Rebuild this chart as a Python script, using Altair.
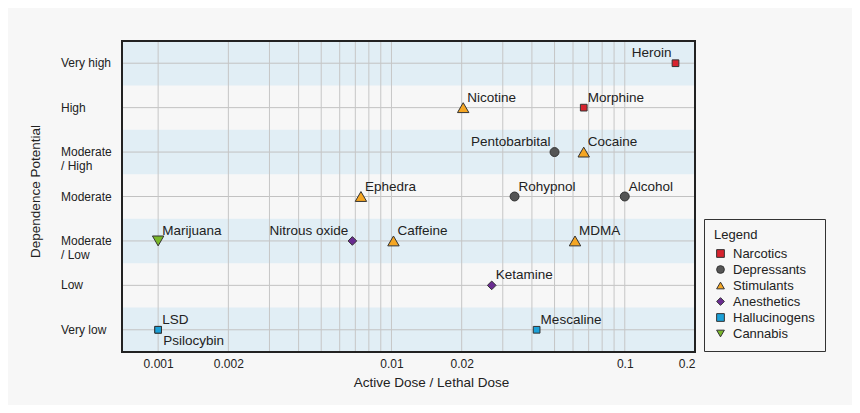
import altair as alt
import pandas as pd

# ---- data ----
levels = ["Very low", "Low", "Moderate\n/ Low", "Moderate", "Moderate\n/ High", "High", "Very high"]
level_values = [1, 2, 3, 4, 5, 6, 7]

drugs = ["Heroin", "Morphine", "Nicotine", "Pentobarbital", "Cocaine", "Ephedra", "Rohypnol",
         "Alcohol", "Marijuana", "Nitrous oxide", "Caffeine", "MDMA", "Ketamine", "LSD",
         "Psilocybin", "Mescaline"]
dose_ratio = [0.165, 0.0667, 0.0203, 0.05, 0.0667, 0.0074, 0.0337,
              0.1, 0.001, 0.0068, 0.0102, 0.0612, 0.0269, 0.001,
              0.001, 0.0419]
dependence = [7, 6, 6, 5, 5, 4, 4,
              4, 3, 3, 3, 3, 2, 1,
              1, 1]
drug_class = ["Narcotics", "Narcotics", "Stimulants", "Depressants", "Stimulants", "Stimulants", "Depressants",
              "Depressants", "Cannabis", "Anesthetics", "Stimulants", "Stimulants", "Anesthetics", "Hallucinogens",
              "Hallucinogens", "Hallucinogens"]

classes = ["Narcotics", "Depressants", "Stimulants", "Anesthetics", "Hallucinogens", "Cannabis"]
class_colors = ["#d7232e", "#555555", "#f5a623", "#6a2c91", "#1ba1d8", "#7ab82a"]
class_shapes = ["square", "circle", "triangle-up", "diamond", "square", "triangle-down"]

grid_values = [0.001, 0.002, 0.003, 0.004, 0.005, 0.006, 0.007, 0.008, 0.009,
               0.01, 0.02, 0.03, 0.04, 0.05, 0.06, 0.07, 0.08, 0.09, 0.1, 0.2]
labeled_ticks = [0.001, 0.002, 0.01, 0.02, 0.1, 0.2]

left_labels = ["Heroin", "Pentobarbital", "Nitrous oxide"]
below_labels = ["Psilocybin"]

W, H = 573, 311
FONT = "Liberation Sans"

df = pd.DataFrame({"name": drugs, "dose": dose_ratio, "dep": dependence, "cls": drug_class})
levels_df = pd.DataFrame({"level": levels, "v": level_values})
bands_df = levels_df[levels_df["v"] % 2 == 1].copy()
bands_df["lo"] = bands_df["v"] - 0.5
bands_df["hi"] = bands_df["v"] + 0.5
grid_df = pd.DataFrame({"g": grid_values})

xscale = alt.Scale(type="log", domain=[0.0007, 0.2], nice=False)
yscale = alt.Scale(domain=[0.5, 7.5], nice=False, zero=False)

xaxis = alt.Axis(
    values=grid_values,
    labelExpr="indexof(%s, datum.value) >= 0 ? format(datum.value, '~g') : ''" % str(labeled_ticks),
    grid=False, ticks=False, domain=False, labelPadding=6, labelFontSize=12,
    labelColor="#222", labelFont=FONT, title="Active Dose / Lethal Dose", titleFontSize=13.5,
    titleFontWeight="normal", titleFont=FONT, titleColor="#222", titlePadding=6,
    titleX=309,
)
yaxis = alt.Axis(
    labels=False, ticks=False, domain=False, grid=False, title="Dependence Potential",
    titleFontSize=13.5, titleFontWeight="normal", titleFont=FONT, titleColor="#222",
    titleX=-80, titleY=150,
)

bands = alt.Chart(bands_df).mark_rect(color="#e1eef5").encode(
    x=alt.value(0), x2=alt.value(W),
    y=alt.Y("lo:Q", scale=yscale, axis=yaxis), y2="hi:Q",
)

hrules = alt.Chart(levels_df).mark_rule(color="#c2c2c2", strokeWidth=1).encode(
    x=alt.value(0), x2=alt.value(W),
    y=alt.Y("v:Q", scale=yscale, axis=yaxis),
)

vrules = alt.Chart(grid_df).mark_rule(color="#c6c6c6", strokeWidth=1).encode(
    x=alt.X("g:Q", scale=xscale, axis=xaxis),
    y=alt.value(0), y2=alt.value(H),
)

ylabels = alt.Chart(levels_df).mark_text(
    align="left", baseline="middle", fontSize=12, font=FONT, color="#222", lineBreak="\n"
).encode(
    x=alt.value(-61),
    y=alt.Y("v:Q", scale=yscale, axis=yaxis),
    text="level:N",
)

size_expr = ("datum.cls == 'Stimulants' || datum.cls == 'Cannabis' ? 130 : "
             "datum.cls == 'Depressants' ? 80 : datum.cls == 'Anesthetics' ? 75 : 45")

points = alt.Chart(df).transform_calculate(sz=size_expr).mark_point(
    filled=True, stroke="#333", strokeWidth=1, opacity=1
).encode(
    x=alt.X("dose:Q", scale=xscale, axis=xaxis),
    y=alt.Y("dep:Q", scale=yscale, axis=yaxis),
    color=alt.Color("cls:N", scale=alt.Scale(domain=classes, range=class_colors), title="Legend",
                    legend=alt.Legend(orient="none", legendX=582, legendY=178)),
    shape=alt.Shape("cls:N", scale=alt.Scale(domain=classes, range=class_shapes), title="Legend"),
    size=alt.Size("sz:Q", scale=None, legend=None),
)

def label_layer(filter_expr, align, dx, dy):
    return alt.Chart(df).transform_filter(filter_expr).mark_text(
        align=align, baseline="middle", dx=dx, dy=dy, fontSize=13.5, font=FONT, color="#222"
    ).encode(
        x=alt.X("dose:Q", scale=xscale, axis=xaxis),
        y=alt.Y("dep:Q", scale=yscale, axis=yaxis),
        text="name:N",
    )

special = left_labels + below_labels
labels_right = label_layer("indexof(%s, datum.name) < 0" % str(special), "left", 4, -10)
labels_left = label_layer("indexof(%s, datum.name) >= 0" % str(left_labels), "right", -4, -10)
labels_below = label_layer("indexof(%s, datum.name) >= 0" % str(below_labels), "left", 5, 11)

frame = alt.Chart(levels_df).mark_rect(fill=None, stroke="#222", strokeWidth=2).encode(
    x=alt.value(0), x2=alt.value(W), y=alt.value(0), y2=alt.value(H),
)

chart = alt.layer(
    bands, hrules, vrules, ylabels, points, labels_right, labels_left, labels_below, frame
).properties(
    width=W, height=H,
    autosize=alt.AutoSizeParams(type="none"),
    padding={"left": 114, "top": 33, "right": 157, "bottom": 53},
    background="#f7f7f7",
).configure_view(
    stroke=None,
).configure_legend(
    fillColor="#f7f7f7", strokeColor="#333", padding=10, cornerRadius=0,
    titleFontSize=13, titleFontWeight="normal", titleFont=FONT, titleColor="#222",
    labelFontSize=13, labelFont=FONT, labelColor="#222", labelOffset=6,
    symbolStrokeColor="#333", symbolStrokeWidth=1, symbolSize=60, rowPadding=2,
    titlePadding=5,
)

chart.save("out.html", embed_options={"renderer": "svg", "actions": False})
